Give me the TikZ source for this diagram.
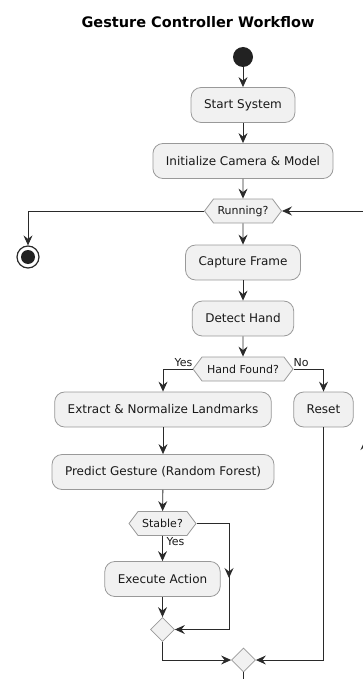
\documentclass[tikz,border=0pt]{standalone}
\usepackage{fontspec}
\setmainfont{DejaVu Sans}
\usetikzlibrary{arrows.meta,shapes.geometric,shapes.symbols}
\definecolor{boxfill}{HTML}{F1F1F1}
\definecolor{boxline}{HTML}{999999}
\definecolor{ln}{HTML}{2A2A2A}
\definecolor{dot}{HTML}{222222}
\begin{document}
\begin{tikzpicture}[x=1pt,y=-1pt,
  act/.style={draw=boxline, fill=boxfill, rounded corners=10pt, minimum height=35pt,
    inner xsep=13pt, font=\fontsize{12}{14}\selectfont, text=black!90, line width=0.8pt},
  hex/.style={draw=boxline, fill=boxfill, signal, signal to=east and west,
    signal pointer angle=106, minimum height=24pt, inner sep=0pt,
    font=\fontsize{11}{13}\selectfont, text=black!90, line width=0.8pt},
  dia/.style={draw=boxline, fill=boxfill, diamond, minimum width=24pt,
    minimum height=24pt, inner sep=0pt, line width=0.8pt},
  plain/.style={draw=ln, line width=0.9pt},
  flow/.style={plain, -{Stealth[length=10pt,width=9pt,inset=3.5pt]}},
  lbl/.style={font=\fontsize{11}{13}\selectfont, text=black!90, inner sep=0pt},
]
\useasboundingbox (0,0) rectangle (363,679);
\clip (0,0) rectangle (363,679);

\node[font=\bfseries\fontsize{14.5}{16}\selectfont] (title) at (198,22) {Gesture Controller Workflow};

\node[circle, fill=dot, minimum size=20pt, inner sep=0pt] (start) at (243,57) {};
\node[act] (s1) at (243,105) {Start System};
\node[act] (s2) at (243,161) {Initialize Camera \& Model};
\node[hex, minimum width=77pt] (run) at (243,211) {Running?};
\node[circle, draw=ln, line width=1.2pt, fill=white, minimum size=22pt, inner sep=0pt] (end) at (28,257) {};
\fill[dot] (end.center) circle (7pt);
\node[act] (cap) at (243,262.5) {Capture Frame};
\node[act] (det) at (243,318.5) {Detect Hand};
\node[hex, minimum width=100pt] (hf) at (243,369) {Hand Found?};
\node[act] (ext) at (163,409.5) {Extract \& Normalize Landmarks};
\node[act] (rst) at (323.5,409.5) {Reset};
\node[act] (pred) at (163,472) {Predict Gesture (Random Forest)};
\node[hex, minimum width=67pt] (stb) at (162.5,523.5) {Stable?};
\node[act] (exe) at (162.5,579) {Execute Action};
\node[dia] (d1) at (162.5,629.5) {};
\node[dia] (d2) at (243.5,660) {};

\coordinate (sr1) at (229,523.5);
\coordinate (sr2) at (229,629.5);
\coordinate (sm) at (229,578);
\coordinate (lb2) at (365,700);
\coordinate (lm) at (365,440);

\draw[flow] (start) -- (s1);
\draw[flow] (s1) -- (s2);
\draw[flow] (s2) -- (run);
\draw[flow] (run.west) -| (end.north);
\draw[flow] (run) -- (cap);
\draw[flow] (cap) -- (det);
\draw[flow] (det) -- (hf);
\draw[flow] (hf.west) -| (ext.north);
\draw[flow] (hf.east) -| (rst.north);
\node[lbl, anchor=south east] at ([yshift=2pt]hf.west) {Yes};
\node[lbl, anchor=south west] at ([yshift=2pt]hf.east) {No};
\draw[flow] (ext) -- (pred);
\draw[flow] (pred) -- (stb);
\draw[flow] (stb) -- (exe);
\node[lbl, anchor=north west] at ([xshift=4pt,yshift=-1pt]stb.south) {Yes};
\draw[flow] (exe) -- (d1);
\draw[plain] (stb.east) -| (sr2);
\draw[flow] (sr1) -- (sm);
\draw[flow] (sr2) -- (d1.east);
\draw[flow] (d1.south) |- (d2.west);
\draw[flow] (rst.south) |- (d2.east);
\draw[flow] (d2.south) |- (lb2) |- (run.east);
\draw[flow] (lb2) -- (lm);
\end{tikzpicture}
\end{document}
